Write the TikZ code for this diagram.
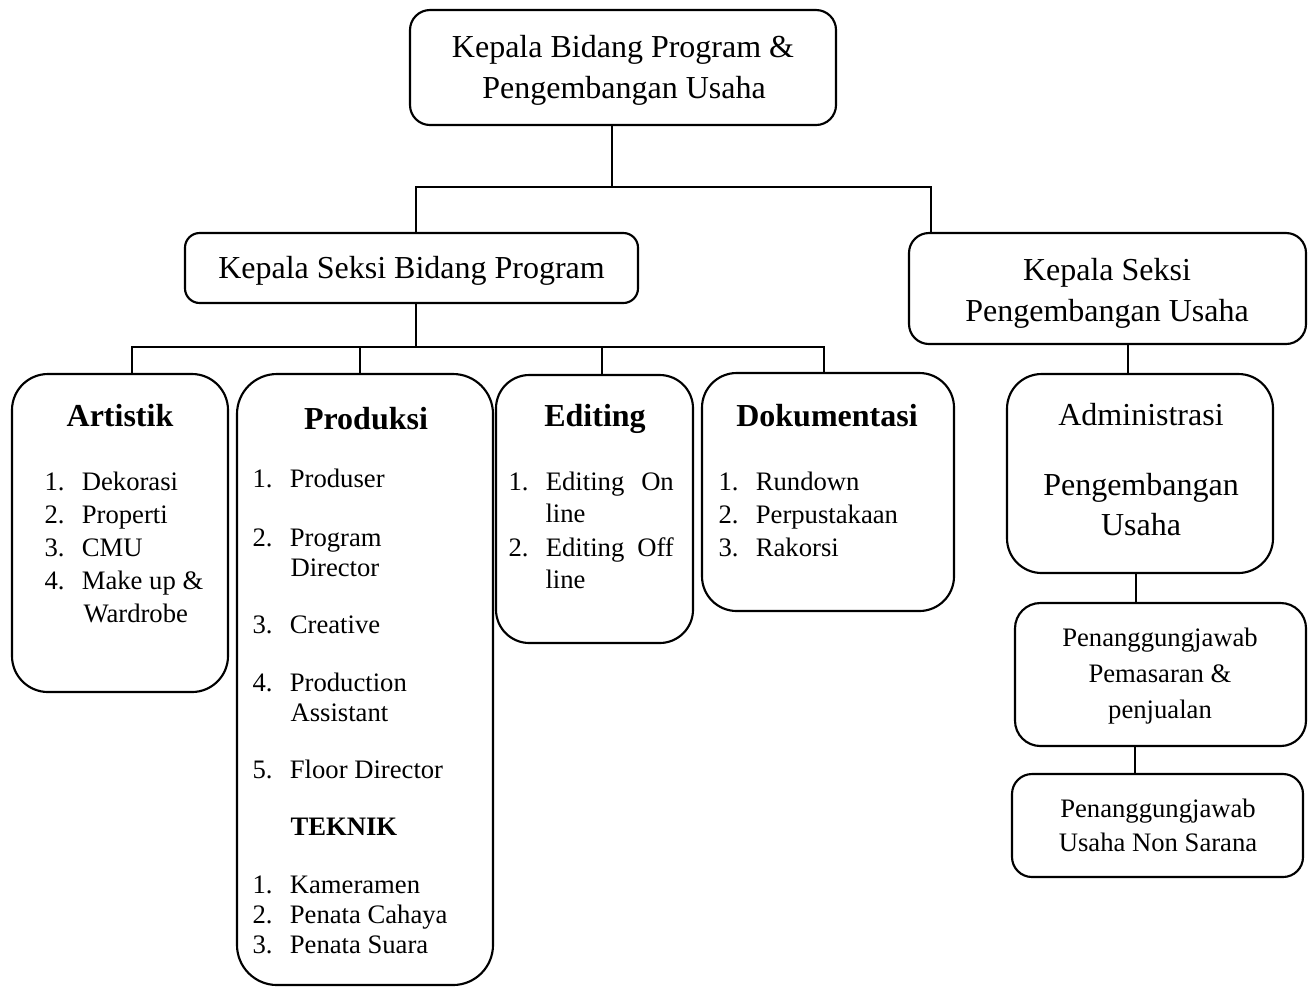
\documentclass[tikz,border=0pt]{standalone}
\usepackage{fontspec}
\setmainfont{Liberation Serif}
\newcommand{\pxu}{0.01318cm}
\newcommand{\bg}{\fontsize{12}{14}\selectfont}
\newcommand{\sm}{\fontsize{10}{12}\selectfont}
\newcommand{\num}[1]{\makebox[14pt][l]{#1}}

\begin{document}
\begin{tikzpicture}[x=0.01318cm,y=-0.01318cm,
   box/.style={draw,line width=0.8pt,inner sep=0pt,rounded corners=#1},
   box/.default=7.5pt,
   link/.style={line width=0.4pt},
   txt/.style={inner sep=0pt,anchor=base,font=\bg},
   hd/.style={inner sep=0pt,anchor=base,font=\bg\bfseries},
   itm/.style={inner sep=0pt,anchor=base west,font=\sm},
   lbl/.style={inner sep=0pt,anchor=base,font=\sm}]
   \useasboundingbox (0,0) rectangle (1315,987);
   % boxes
   \node[box,minimum width=426*\pxu,minimum height=115*\pxu] (top) at (623,67.5) {};
   \node[box=5.5pt,minimum width=453*\pxu,minimum height=70*\pxu] (ksbp) at (411.5,268) {};
   \node[box,minimum width=397*\pxu,minimum height=111*\pxu] (kspu) at (1107.5,288.5) {};
   \node[box=13.5pt,minimum width=216*\pxu,minimum height=318*\pxu] (art) at (120,533) {};
   \node[box=15pt,minimum width=256*\pxu,minimum height=611*\pxu] (prod) at (365,679.5) {};
   \node[box=12.5pt,minimum width=197*\pxu,minimum height=268*\pxu] (edit) at (594.5,509) {};
   \node[box=13pt,minimum width=252*\pxu,minimum height=238*\pxu] (doc) at (828,492) {};
   \node[box=13pt,minimum width=266*\pxu,minimum height=199*\pxu] (adm) at (1140,473.5) {};
   \node[box=9.5pt,minimum width=291*\pxu,minimum height=143*\pxu] (ppp) at (1160.5,674.5) {};
   \node[box,minimum width=291*\pxu,minimum height=103*\pxu] (puns) at (1157.5,825.5) {};
   % connectors
   \draw[link] (top.south -| 612,0) -- (612,187);
   \draw[link] (ksbp.north -| 416,0) -- (416,187) -- (931,187) -- (kspu.north -| 931,0);
   \draw[link] (ksbp.south -| 416,0) -- (416,347);
   \draw[link] (art.north -| 132,0) -- (132,347) -- (824,347) -- (doc.north -| 824,0);
   \draw[link] (prod.north -| 360,0) -- (360,347);
   \draw[link] (edit.north -| 602,0) -- (602,347);
   \draw[link] (kspu.south -| 1128,0) -- (adm.north -| 1128,0);
   \draw[link] (adm.south -| 1136,0) -- (ppp.north -| 1136,0);
   \draw[link] (ppp.south -| 1135,0) -- (puns.north -| 1135,0);
   % heads
   \node[txt] (top1) at (623,57) {Kepala Bidang Program \&};
   \node[txt] (top2) at (624,98) {Pengembangan Usaha};
   \node[txt] (ksbp1) at (411.5,278) {Kepala Seksi Bidang Program};
   \node[txt] (kspu1) at (1107,280) {Kepala Seksi};
   \node[txt] (kspu2) at (1107,321) {Pengembangan Usaha};
   % artistik
   \node[hd] (art0) at (120,426) {Artistik};
   \node[itm] (art1) at (44,490) {\num{1.}Dekorasi};
   \node[itm] (art2) at (44,523) {\num{2.}Properti};
   \node[itm] (art3) at (44,556) {\num{3.}CMU};
   \node[itm] (art4) at (44,589) {\num{4.}Make up \&};
   \node[itm] (art5) at (83,622) {Wardrobe};
   % produksi
   \node[hd] (prod0) at (366,429) {Produksi};
   \node[itm] (prod1) at (252,487) {\num{1.}Produser};
   \node[itm] (prod2) at (252,546) {\num{2.}Program};
   \node[itm] (prod3) at (290,576) {Director};
   \node[itm] (prod4) at (252,633) {\num{3.}Creative};
   \node[itm] (prod5) at (252,691) {\num{4.}Production};
   \node[itm] (prod6) at (290,721) {Assistant};
   \node[itm] (prod7) at (252,778) {\num{5.}Floor Director};
   \node[itm,font=\sm\bfseries] (tek0) at (290,835) {TEKNIK};
   \node[itm] (tek1) at (252,893) {\num{1.}Kameramen};
   \node[itm] (tek2) at (252,923) {\num{2.}Penata Cahaya};
   \node[itm] (tek3) at (252,953) {\num{3.}Penata Suara};
   % editing
   \node[hd] (edit0) at (595,426) {Editing};
   \node[itm] (edit1) at (508,490) {\num{1.}\makebox[48pt][s]{Editing On}};
   \node[itm] (edit2) at (545,522) {line};
   \node[itm] (edit3) at (508,556) {\num{2.}\makebox[48pt][s]{Editing Off}};
   \node[itm] (edit4) at (545,588) {line};
   % dokumentasi
   \node[hd] (doc0) at (827,426) {Dokumentasi};
   \node[itm] (doc1) at (718,490) {\num{1.}Rundown};
   \node[itm] (doc2) at (718,523) {\num{2.}Perpustakaan};
   \node[itm] (doc3) at (718,556) {\num{3.}Rakorsi};
   % pengembangan usaha
   \node[txt] (adm1) at (1141,425) {Administrasi};
   \node[txt] (adm2) at (1141,495) {Pengembangan};
   \node[txt] (adm3) at (1141,535) {Usaha};
   \node[lbl] (ppp1) at (1160,646) {Penanggungjawab};
   \node[lbl] (ppp2) at (1160,682) {Pemasaran \&};
   \node[lbl] (ppp3) at (1160,718) {penjualan};
   \node[lbl] (puns1) at (1158,817) {Penanggungjawab};
   \node[lbl] (puns2) at (1158,851) {Usaha Non Sarana};
\end{tikzpicture}
\end{document}
